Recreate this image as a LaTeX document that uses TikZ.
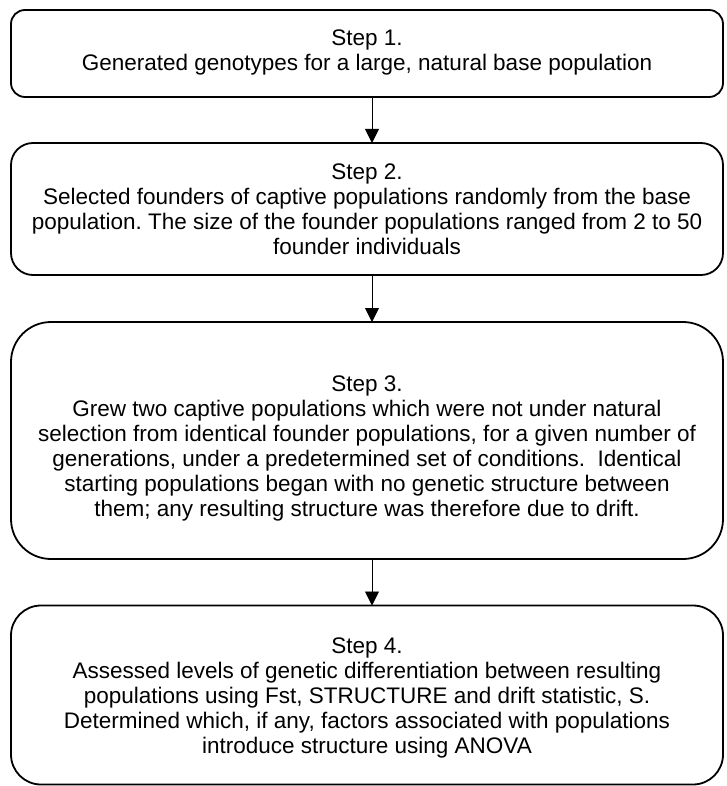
\documentclass[tikz,border=0pt]{standalone}
\usepackage{fontspec}
\setmainfont{Liberation Sans}
\usetikzlibrary{arrows.meta}
\frenchspacing
\begin{document}
\begin{tikzpicture}[x=1pt,y=-1pt,
  stepbox/.style={draw=black, line width=1.8pt, rectangle, outer sep=0pt, inner sep=0pt,
    minimum width=712pt},
  steptext/.style={align=center, inner sep=0pt, font=\fontsize{22.5}{25}\selectfont},
  arr/.style={line width=0.9pt, -{Triangle[length=14pt,width=14pt]}}]
\useasboundingbox (0,0) rectangle (726,786);
\node[stepbox, minimum height=87pt, rounded corners=14pt] (b1) at (367,53.5) {};
\node[steptext] (t1) at ([yshift=1pt]b1.center)
  {Step 1.\\Generated genotypes for a large, natural base population};
\node[stepbox, minimum height=132pt, rounded corners=22pt] (b2) at (367,209) {};
\node[steptext] (t2) at (b2.center)
  {Step 2.\\Selected founders of captive populations randomly from the base\\population. The size of the founder populations ranged from 2 to 50\\founder individuals};
\node[stepbox, minimum height=237pt, rounded corners=40pt] (b3) at (367,440.5) {};
\node[steptext] (t3) at ([yshift=-8pt]b3.center)
  {Step 3.\\Grew two captive populations which were not under natural\\selection from identical founder populations, for a given number of\\generations, under a predetermined set of conditions.\ \ Identical\\starting populations began with no genetic structure between\\them; any resulting structure was therefore due to drift.};
\node[stepbox, minimum height=179pt, rounded corners=30pt] (b4) at (367,695) {};
\node[steptext] (t4) at ([yshift=-3pt]b4.center)
  {Step 4.\\Assessed levels of genetic differentiation between resulting\\populations using Fst, STRUCTURE and drift statistic, S.\\Determined which, if any, factors associated with populations\\introduce structure using ANOVA};
\draw[arr] ([xshift=5pt]b1.south) -- ([xshift=5pt]b2.north);
\draw[arr] ([xshift=5pt]b2.south) -- ([xshift=5pt]b3.north);
\draw[arr] ([xshift=5pt]b3.south) -- ([xshift=5pt]b4.north);
\end{tikzpicture}
\end{document}
